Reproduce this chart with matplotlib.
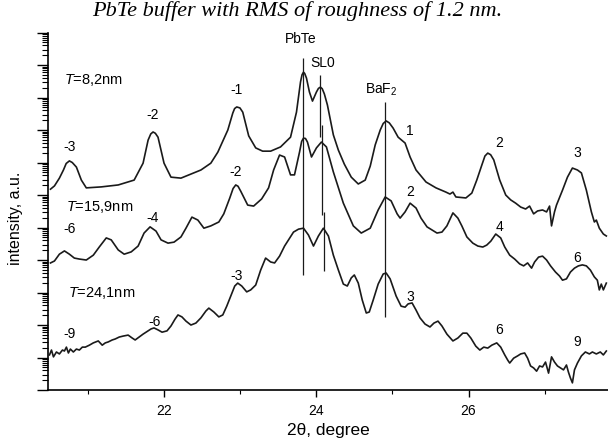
import numpy as np
import matplotlib
matplotlib.use("Agg")
import matplotlib.pyplot as plt
from matplotlib.ticker import LogLocator, NullFormatter, MultipleLocator

plt.rcParams['font.family'] = ['Liberation Sans', 'DejaVu Sans']
plt.rcParams['mathtext.fontset'] = 'custom'
plt.rcParams['mathtext.rm'] = 'Liberation Sans'
plt.rcParams['mathtext.it'] = 'Liberation Sans:italic'

# 2theta (deg) and log10(intensity)
tt_82 = [20.514, 20.566, 20.631, 20.684, 20.720, 20.762, 20.800, 20.854, 20.919, 20.984,
         21.180, 21.403, 21.612, 21.729, 21.795, 21.830, 21.860, 21.890, 21.925, 22.004,
         22.095, 22.226, 22.488, 22.618, 22.710, 22.841, 22.906, 22.930, 22.958, 23.000,
         23.037, 23.115, 23.207, 23.298, 23.403, 23.533, 23.664, 23.742, 23.795, 23.815,
         23.834, 23.850, 23.873, 23.912, 23.952, 24.004, 24.030, 24.056, 24.080, 24.108,
         24.148, 24.226, 24.292, 24.370, 24.461, 24.553, 24.644, 24.710, 24.775, 24.841,
         24.880, 24.919, 24.960, 25.010, 25.076, 25.167, 25.233, 25.311, 25.442, 25.573,
         25.703, 25.756, 25.795, 25.834, 25.965, 26.043, 26.108, 26.174, 26.215, 26.252,
         26.290, 26.331, 26.409, 26.488, 26.553, 26.618, 26.684, 26.749, 26.801, 26.854,
         26.906, 26.971, 27.024, 27.063, 27.089, 27.128, 27.154, 27.233, 27.298, 27.363,
         27.429, 27.481, 27.546, 27.612, 27.651, 27.677, 27.716, 27.769, 27.808]
lg_82 = [6.18, 6.28, 6.52, 6.77, 6.97, 7.05, 7.00, 6.86, 6.46, 6.22,
         6.25, 6.31, 6.46, 6.98, 7.69, 7.88, 7.94, 7.90, 7.78, 6.98,
         6.55, 6.52, 6.77, 6.98, 7.32, 8.00, 8.52, 8.66, 8.71, 8.68,
         8.55, 7.82, 7.45, 7.35, 7.35, 7.48, 7.78, 8.55, 9.48, 9.70,
         9.78, 9.74, 9.60, 9.17, 8.89, 9.17, 9.28, 9.32, 9.27, 9.11,
         8.77, 7.85, 7.38, 6.95, 6.55, 6.34, 6.46, 6.89, 7.54, 8.00,
         8.20, 8.28, 8.22, 8.06, 7.78, 7.60, 7.17, 6.77, 6.40, 6.22,
         6.09, 6.03, 6.09, 5.94, 5.91, 6.06, 6.46, 6.92, 7.20, 7.29,
         7.24, 7.08, 6.46, 6.00, 5.85, 5.75, 5.63, 5.57, 5.66, 5.42,
         5.51, 5.54, 5.48, 5.66, 5.05, 5.48, 5.69, 6.15, 6.55, 6.83,
         6.77, 6.68, 6.15, 5.48, 5.17, 5.23, 4.98, 4.80, 4.74]

tt_159 = [20.514, 20.566, 20.631, 20.697, 20.762, 20.827, 20.893, 20.984, 21.076, 21.154,
          21.246, 21.311, 21.403, 21.481, 21.573, 21.664, 21.742, 21.821, 21.899, 21.965,
          22.056, 22.135, 22.226, 22.292, 22.370, 22.448, 22.527, 22.618, 22.723, 22.788,
          22.867, 22.910, 22.945, 22.975, 23.010, 23.102, 23.180, 23.285, 23.376, 23.442,
          23.520, 23.586, 23.664, 23.716, 23.782, 23.810, 23.834, 23.860, 23.886, 23.939,
          24.004, 24.069, 24.135, 24.226, 24.357, 24.488, 24.592, 24.710, 24.814, 24.906,
          24.984, 25.063, 25.102, 25.167, 25.233, 25.311, 25.376, 25.455, 25.586, 25.651,
          25.716, 25.795, 25.860, 25.912, 25.978, 26.056, 26.122, 26.187, 26.239, 26.292,
          26.357, 26.422, 26.475, 26.540, 26.605, 26.671, 26.723, 26.775, 26.827, 26.867,
          26.919, 26.971, 27.024, 27.076, 27.141, 27.193, 27.233, 27.285, 27.337, 27.390,
          27.442, 27.494, 27.546, 27.599, 27.651, 27.690, 27.716, 27.742, 27.769, 27.808]
lg_159 = [3.91, 3.97, 4.18, 4.28, 4.18, 4.06, 4.03, 4.00, 4.15, 4.40,
          4.68, 4.62, 4.31, 4.18, 4.25, 4.43, 4.83, 5.02, 4.89, 4.62,
          4.52, 4.55, 4.71, 4.98, 5.32, 5.23, 4.98, 5.05, 5.17, 5.42,
          5.91, 6.20, 6.31, 6.27, 6.12, 5.69, 5.66, 5.88, 6.22, 6.77,
          7.23, 7.17, 6.62, 6.62, 7.32, 7.65, 7.75, 7.74, 7.63, 7.17,
          7.45, 7.63, 7.48, 6.71, 5.75, 5.05, 4.83, 4.98, 5.54, 5.94,
          5.82, 5.42, 5.29, 5.48, 5.75, 5.60, 5.29, 5.02, 4.83, 4.86,
          5.05, 5.45, 5.29, 5.05, 4.71, 4.52, 4.43, 4.40, 4.46, 4.58,
          4.80, 4.68, 4.40, 4.15, 4.03, 3.88, 3.82, 3.91, 3.75, 3.94,
          4.09, 4.12, 4.00, 3.82, 3.63, 3.51, 3.38, 3.42, 3.63, 3.75,
          3.82, 3.85, 3.82, 3.69, 3.48, 3.38, 3.08, 3.26, 3.08, 3.29]

tt_241 = [20.501, 20.527, 20.553, 20.592, 20.631, 20.671, 20.697, 20.723, 20.749, 20.775,
          20.814, 20.854, 20.893, 20.932, 20.971, 21.024, 21.076, 21.141, 21.193, 21.233,
          21.272, 21.324, 21.363, 21.416, 21.468, 21.533, 21.586, 21.625, 21.677, 21.729,
          21.795, 21.834, 21.873, 21.925, 21.978, 22.043, 22.095, 22.148, 22.187, 22.239,
          22.292, 22.357, 22.422, 22.488, 22.553, 22.592, 22.658, 22.723, 22.775, 22.827,
          22.880, 22.932, 22.971, 23.024, 23.089, 23.141, 23.207, 23.272, 23.337, 23.403,
          23.455, 23.520, 23.586, 23.638, 23.703, 23.769, 23.834, 23.899, 23.965, 24.030,
          24.095, 24.161, 24.226, 24.292, 24.357, 24.409, 24.461, 24.501, 24.553, 24.605,
          24.658, 24.697, 24.749, 24.814, 24.880, 24.919, 24.971, 25.050, 25.115, 25.167,
          25.207, 25.259, 25.311, 25.363, 25.429, 25.494, 25.546, 25.599, 25.651, 25.716,
          25.795, 25.860, 25.925, 25.978, 26.030, 26.095, 26.148, 26.200, 26.252, 26.305,
          26.370, 26.422, 26.475, 26.514, 26.540, 26.592, 26.644, 26.684, 26.736, 26.775,
          26.814, 26.854, 26.893, 26.932, 26.971, 27.010, 27.050, 27.089, 27.128, 27.167,
          27.207, 27.246, 27.285, 27.311, 27.337, 27.363, 27.390, 27.429, 27.481, 27.533,
          27.586, 27.625, 27.677, 27.729, 27.769, 27.808]
lg_241 = [1.08, 1.23, 1.02, 1.17, 1.11, 1.23, 1.20, 1.32, 1.14, 1.26,
          1.17, 1.26, 1.23, 1.32, 1.32, 1.38, 1.45, 1.51, 1.38, 1.45,
          1.48, 1.54, 1.57, 1.63, 1.66, 1.69, 1.60, 1.54, 1.63, 1.72,
          1.82, 1.88, 1.91, 1.85, 1.78, 1.82, 1.97, 2.18, 2.31, 2.25,
          2.12, 2.00, 2.06, 2.22, 2.43, 2.52, 2.40, 2.25, 2.31, 2.58,
          2.89, 3.20, 3.29, 3.20, 3.02, 3.08, 3.23, 3.69, 4.06, 3.94,
          3.91, 4.12, 4.43, 4.62, 4.86, 4.95, 4.98, 4.77, 4.43, 4.74,
          4.98, 4.74, 4.15, 3.69, 3.26, 3.20, 3.45, 3.54, 3.29, 2.77,
          2.37, 2.40, 2.77, 3.26, 3.57, 3.60, 3.42, 2.89, 2.58, 2.55,
          2.65, 2.68, 2.46, 2.22, 2.03, 1.94, 2.06, 2.12, 1.97, 1.72,
          1.51, 1.60, 1.75, 1.75, 1.60, 1.35, 1.23, 1.32, 1.29, 1.38,
          1.45, 1.32, 1.08, 0.92, 0.83, 0.98, 1.05, 1.11, 1.14, 0.98,
          0.74, 0.68, 0.58, 0.74, 0.71, 0.86, 0.52, 1.02, 0.86, 0.74,
          0.68, 0.62, 0.77, 0.55, 0.37, 0.22, 0.62, 0.83, 1.05, 1.17,
          1.11, 1.17, 1.11, 1.17, 1.08, 1.20]

# satellite order labels: text, 2theta, log10(I)
sat_82 = [("-3", 20.76, 7.48), ("-2", 21.86, 8.46), ("-1", 22.96, 9.23),
          ("1", 25.23, 7.98), ("2", 26.40, 7.60), ("3", 27.43, 7.29)]
sat_159 = [("-6", 20.76, 4.95), ("-4", 21.86, 5.29), ("-2", 22.95, 6.71),
           ("2", 25.23, 6.10), ("4", 26.40, 5.02), ("6", 27.43, 4.06)]
sat_241 = [("-9", 20.76, 1.72), ("-6", 21.88, 2.10), ("-3", 22.96, 3.51),
           ("3", 25.23, 2.87), ("6", 26.40, 1.85), ("9", 27.43, 1.49)]

# reference lines: 2theta, lg bottom, lg top
ref_lines = [(23.830, 3.54, 10.22),   # PbTe
             (24.056, 7.78, 9.69),    # SL0
             (24.078, 5.38, 8.15),
             (24.099, 3.66, 5.48),
             (24.910, 2.25, 8.86)]    # BaF2

fig = plt.figure(figsize=(6.08, 4.42), dpi=100)
ax = fig.add_axes([0.0794, 0.1176, 0.9206, 0.8088])

for tt, lg in [(tt_82, lg_82), (tt_159, lg_159), (tt_241, lg_241)]:
    ax.plot(tt, 10 ** np.array(lg), color='#1a1a1a', lw=1.2)

for x, y0, y1 in ref_lines:
    ax.vlines(x, 10 ** y0, 10 ** y1, color='#1a1a1a', lw=0.9)

for lst in (sat_82, sat_159, sat_241):
    for s, x, y in lst:
        ax.text(x, 10 ** y, s, ha='center', va='center', fontsize=10)

ax.text(20.685, 10 ** 9.54, "$T$=8,2nm", ha='left', va='center', fontsize=10.5)
ax.text(20.72, 10 ** 5.62, "$T$=15,9nm", ha='left', va='center', fontsize=10.5)
ax.text(20.75, 10 ** 2.98, "$T$=24,1nm", ha='left', va='center', fontsize=10.5)
ax.text(23.795, 10 ** 10.79, "PbTe", ha='center', va='center', fontsize=10)
ax.text(24.08, 10 ** 10.06, "SL0", ha='center', va='center', fontsize=10)
ax.text(24.86, 10 ** 9.23, "BaF$_2$", ha='center', va='center', fontsize=10)

ax.set_yscale('log')
ax.set_xlim(20.485, 27.83)
ax.set_ylim(1, 1e11)
ax.yaxis.set_major_locator(LogLocator(base=10, numticks=30))
ax.yaxis.set_minor_locator(LogLocator(base=10, subs=np.arange(2, 10), numticks=30))
ax.yaxis.set_major_formatter(NullFormatter())
ax.yaxis.set_minor_formatter(NullFormatter())
ax.xaxis.set_major_locator(MultipleLocator(2))
ax.xaxis.set_minor_locator(MultipleLocator(1))

ax.tick_params(axis='y', which='major', direction='out', length=8, width=1)
ax.tick_params(axis='y', which='minor', direction='out', length=4, width=0.8)
ax.tick_params(axis='x', which='major', direction='out', length=5, width=1, labelsize=10, pad=5)
ax.tick_params(axis='x', which='minor', direction='out', length=3, width=0.8)
ax.spines['top'].set_visible(False)
ax.spines['right'].set_visible(False)
ax.spines['left'].set_linewidth(1.2)
ax.spines['bottom'].set_linewidth(1.2)

ax.set_xlabel("2θ, degree", fontsize=12.5, labelpad=4)
ax.set_ylabel("intensity, a.u.", fontsize=11.5)
ax.yaxis.set_label_coords(-0.045, 0.481)

fig.text(0.489, 0.975, "PbTe buffer with RMS of roughness of 1.2 nm.",
         ha='center', va='center', fontsize=16, family='Liberation Serif', style='italic')

fig.savefig("out.png", dpi=100)
